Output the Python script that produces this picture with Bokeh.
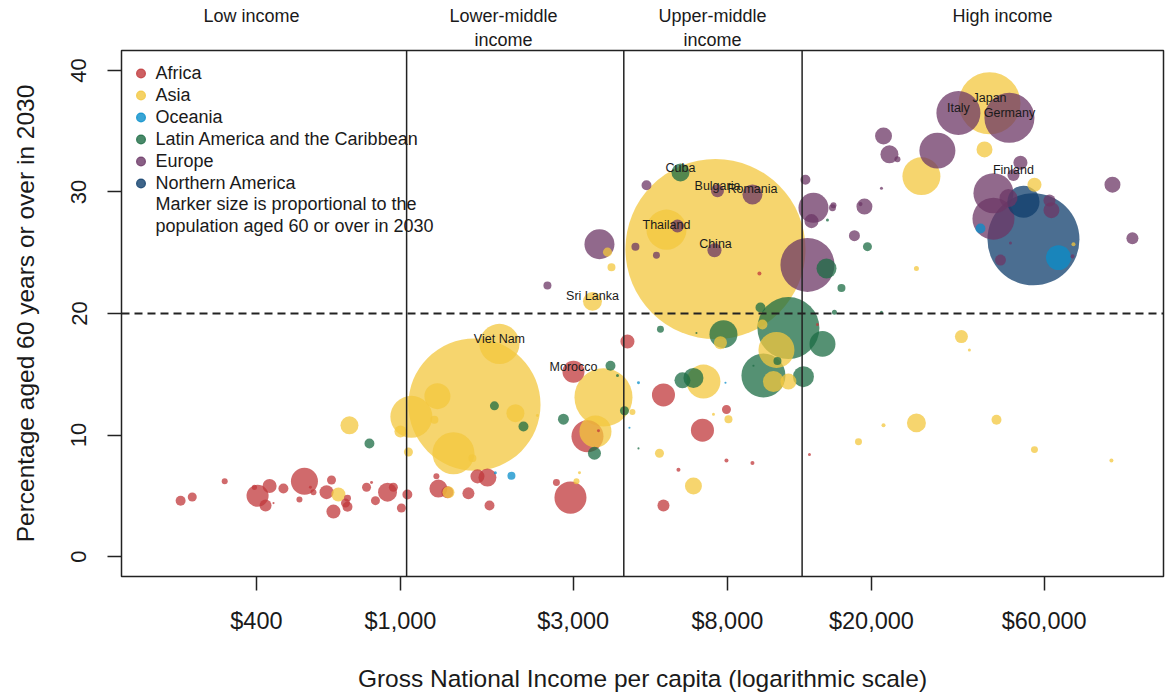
import math
from bokeh.plotting import figure
from bokeh.models import (ColumnDataSource, Span, Label, Legend, LegendItem, Range1d,
                          FixedTicker, NumeralTickFormatter, LogAxis)
from bokeh.core.properties import value
from bokeh.embed import file_html
from bokeh.resources import INLINE

FONT = "Liberation Sans"

REGIONS = ["Africa", "Asia", "Oceania", "Latin America and the Caribbean",
           "Europe", "Northern America"]
COLORS = ["#C0383B", "#F3C73E", "#088ECA", "#1C6C44", "#6C3766", "#0F3E6C"]

# GNI per capita (US$), % aged 60+ in 2030, population aged 60+ in 2030 (millions)
africa_gni = [247, 266, 327, 403, 435, 424, 395, 475, 543, 526, 575, 564, 645, 625, 653,
              714, 705, 714, 806, 832, 853, 921, 956, 1006, 1045, 446, 1257, 1273, 1348,
              1541, 1632, 1739, 1762, 2697, 2949, 3006, 3286, 4237, 5328, 6828, 7954, 5328,
              5861, 7954, 9384, 9810, 13486, 14190, 3524]
africa_pct = [4.6, 4.9, 6.2, 5.0, 5.8, 4.2, 5.7, 5.6, 6.2, 4.7, 5.3, 5.7, 6.3, 5.3, 3.7,
              4.8, 4.4, 4.1, 5.7, 6.1, 4.6, 5.3, 5.7, 4.0, 5.1, 4.4, 6.6, 5.6, 5.3,
              5.2, 6.6, 6.5, 4.2, 6.1, 4.85, 15.2, 9.9, 17.7, 13.3, 10.4, 12.1, 4.2,
              7.15, 7.9, 7.7, 23.3, 8.4, 19.1, 10.35]
africa_pop = [1.1, 0.9, 0.4, 5.4, 2.2, 1.6, 0.3, 1.1, 8.1, 0.4, 0.4, 0.1, 0.9, 2.2, 2.2,
              0.54, 0.9, 1.1, 0.9, 0.1, 0.9, 4.0, 0.9, 0.9, 1.1, 0.05, 0.4, 3.6, 1.6,
              1.6, 2.2, 3.6, 1.1, 0.54, 11.4, 5.4, 11.4, 2.2, 5.9, 5.9, 0.9, 1.6,
              0.18, 0.18, 0.18, 0.18, 0.1, 0.1, 0.1]

asia_gni = [723, 674, 1072, 1265, 1601, 2078, 1241, 1000, 1401, 1052, 1580, 1877, 2390,
            3638, 3457, 4374, 3064, 3123, 3392, 3732, 3828, 5431, 7417, 6871, 7656, 8056,
            7323, 5194, 6447, 10000, 10932, 10725, 11796, 18420, 21600, 26630, 35450,
            37300, 44310, 56420, 92060, 26630, 27490, 41060, 42390, 56420, 72310, 1357]
asia_pct = [10.8, 5.1, 11.5, 13.2, 12.5, 11.8, 11.25, 10.3, 8.5, 8.6, 8.1, 17.5, 11.6,
            13.1, 10.3, 11.9, 6.2, 6.9, 21.0, 25.05, 23.8, 26.9, 25.3, 14.4, 17.6, 11.3,
            11.7, 8.5, 5.8, 19.1, 17.0, 14.4, 14.4, 9.45, 10.8, 11.0, 18.1,
            17.0, 11.25, 8.8, 7.9, 23.7, 31.3, 33.5, 37.3, 30.6, 25.7, 5.3]
asia_pop = [3.6, 2.2, 19.6, 7.5, 194, 3.6, 0.71, 1.6, 19.6, 0.9, 0.71, 17.8, 0.1,
            37.4, 11.4, 0.4, 0.4, 0.1, 4.0, 0.9, 0.71, 17.8, 360, 12.8, 1.88, 0.71,
            0.1, 0.9, 3.2, 1.1, 14.4, 4.9, 2.84, 0.54, 0.18, 4.0, 1.88,
            0.1, 1.1, 0.54, 0.18, 0.28, 16.0, 2.84, 42.7, 2.2, 0.18, 1.6]

oceania_gni = [2026, 1829, 4545, 4291, 7904, 40020, 65720]
oceania_pct = [6.65, 6.9, 14.3, 10.6, 14.3, 27.0, 24.6]
oceania_pop = [0.71, 0.1, 0.1, 0.05, 0.05, 1.1, 6.9]

latam_gni = [821, 1818, 2187, 2820, 3804, 3977, 4157, 3435, 5227, 6012, 6447, 7804, 6572,
             4545, 9874, 11796, 11002, 14650, 10064, 12980, 9443, 16530, 15810, 15030,
             19500, 15120, 5936, 21320]
latam_pct = [9.3, 12.4, 10.7, 11.3, 15.7, 14.9, 12.0, 8.5, 18.7, 14.5, 14.7, 18.3, 18.4,
             8.9, 20.5, 18.8, 16.1, 17.5, 14.9, 14.8, 15.7, 22.1, 20.1, 23.7,
             25.5, 27.7, 31.6, 20.1]
latam_pop = [1.1, 0.9, 1.1, 1.34, 1.1, 0.1, 0.9, 1.88, 0.54, 2.84, 4.44, 8.7, 0.05,
             0.05, 1.1, 42.7, 0.71, 7.5, 21.5, 4.9, 0.05, 0.71, 0.28, 4.44,
             0.9, 0.1, 3.6, 0.1]

europe_gni = [2547, 3546, 4783, 4458, 5095, 5824, 7370, 7512, 9384, 13314, 13834, 13660,
              13146, 15610, 15710, 17950, 19130, 18660, 21320, 21600, 22430, 23600, 30430,
              34780, 48120, 49360, 51600, 43470, 47820, 62070, 62860, 43470, 45450, 48430,
              71860, 92660, 105200]
europe_pct = [22.3, 25.7, 30.55, 25.5, 24.8, 27.2, 25.2, 30.1, 29.8, 24.0, 28.7, 27.6,
              31.0, 28.7, 28.9, 26.4, 28.8, 29.0, 30.3, 34.6, 33.1, 32.7, 33.4,
              36.5, 36.1, 31.4, 32.4, 29.9, 29.5, 29.3, 28.5, 27.8, 24.4, 25.8,
              24.7, 30.6, 26.2]
europe_pop = [0.71, 10.0, 1.1, 0.71, 0.54, 1.88, 2.2, 1.88, 4.44, 32.4, 10.0, 2.2,
              1.1, 0.54, 0.4, 1.34, 2.84, 0.18, 0.1, 3.2, 3.6, 0.4, 14.4,
              21.5, 27.8, 1.6, 2.2, 17.8, 3.6, 1.6, 2.84, 19.6, 1.34, 0.1,
              0.18, 2.84, 1.6]

namerica_gni = [52600, 56060]
namerica_pct = [29.2, 26.1]
namerica_pop = [11.4, 94.0]

label_names = ["Viet Nam", "Sri Lanka", "Morocco", "Cuba", "Bulgaria", "Romania",
               "Thailand", "China", "Japan", "Italy", "Germany", "Finland"]
label_gni = [1877, 3392, 3006, 5936, 7512, 9384, 5431, 7417, 42390, 34780, 48120, 49360]
label_pct = [17.5, 21.0, 15.2, 31.6, 30.1, 29.8, 26.9, 25.3, 37.3, 36.5, 36.1, 31.4]

x_ticks = [400, 1000, 3000, 8000, 20000, 60000]
y_ticks = [0, 10, 20, 30, 40]
income_thresholds = [1040, 4140, 12870]
reference_pct = 20
group_gni = [388, 1925, 7276, 46030]
group_line1 = ["Low income", "Lower-middle", "Upper-middle", "High income"]
group_line2 = ["", "income", "income", ""]
note_lines = ["Marker size is proportional to the", "population aged 60 or over in 2030"]

# ---- assemble -----------------------------------------------------------
series = [(africa_gni, africa_pct, africa_pop), (asia_gni, asia_pct, asia_pop),
          (oceania_gni, oceania_pct, oceania_pop), (latam_gni, latam_pct, latam_pop),
          (europe_gni, europe_pct, europe_pop), (namerica_gni, namerica_pct, namerica_pop)]
rows = []
for k, (g, c, s) in enumerate(series):
    for gi, ci, si in zip(g, c, s):
        rows.append((gi, ci, si, k))
rows.sort(key=lambda r: -r[2])

SIZE_SCALE = 9.49  # marker diameter (px) per sqrt(million)
src = ColumnDataSource(dict(
    gni=[r[0] for r in rows], pct=[r[1] for r in rows], pop=[r[2] for r in rows],
    region=[REGIONS[r[3]] for r in rows], color=[COLORS[r[3]] for r in rows],
    size=[SIZE_SCALE * math.sqrt(r[2]) for r in rows]))

p = figure(width=1165, height=694, x_axis_type="log",
           x_range=Range1d(169.6, 128200), y_range=Range1d(-1.64, 41.64),
           output_backend="svg", toolbar_location=None,
           min_border_left=121, min_border_right=2, min_border_top=50,
           min_border_bottom=117)
p.xgrid.visible = False
p.ygrid.visible = False
p.outline_line_color = "#222222"
p.outline_line_width = 1.5
p.outline_line_alpha = 1.0
p.background_fill_color = "white"
p.border_fill_color = "white"

r = p.scatter(x="gni", y="pct", size="size", source=src, fill_color="color",
              fill_alpha=0.75, line_color=None)

# axes
for ax in (p.xaxis[0], p.yaxis[0]):
    ax.axis_line_color = None
    ax.major_tick_out = 14
    ax.major_tick_in = 0
    ax.major_tick_line_color = "#222222"
    ax.major_tick_line_width = 1.5
    ax.minor_tick_line_color = None
    ax.major_label_text_font = FONT
    ax.major_label_text_color = "#1a1a1a"
    ax.axis_label_text_font = FONT
    ax.axis_label_text_font_style = "normal"
    ax.axis_label_text_color = "#1a1a1a"
    ax.axis_label_text_font_size = "24.5px"

p.xaxis.ticker = FixedTicker(ticks=x_ticks)
p.xaxis.formatter = NumeralTickFormatter(format="$0,0")
p.xaxis.major_label_text_font_size = "23.5px"
p.xaxis.major_label_standoff = 17
p.xaxis.axis_label = "Gross National Income per capita (logarithmic scale)"
p.xaxis.axis_label_standoff = 28

p.yaxis.ticker = FixedTicker(ticks=y_ticks)
p.yaxis.major_label_text_font_size = "22px"
p.yaxis.major_label_orientation = "parallel"
p.yaxis.major_label_standoff = 21
p.yaxis.axis_label = "Percentage aged 60 years or over in 2030"
p.yaxis.axis_label_standoff = 30

# income group captions: two label-only axes above the frame
def caption_axis(labels, standoff):
    ticks = [g for g, t in zip(group_gni, labels) if t]
    ax = LogAxis(ticker=FixedTicker(ticks=ticks),
                 major_label_overrides={g: t for g, t in zip(group_gni, labels) if t},
                 axis_line_color=None, major_tick_line_color=None,
                 minor_tick_line_color=None, major_tick_out=0, major_tick_in=0,
                 major_label_standoff=standoff, major_label_text_font=FONT,
                 major_label_text_font_size="18px", major_label_text_color="#1a1a1a")
    p.add_layout(ax, "above")

caption_axis(group_line2, 1)
caption_axis(group_line1, 1)

# reference lines
for t in income_thresholds:
    p.add_layout(Span(location=t, dimension="height", line_color="#222222", line_width=1.5))
p.add_layout(Span(location=reference_pct, dimension="width", line_color="#222222",
                  line_width=2, line_dash="8 5"))

# country labels
lab_src = ColumnDataSource(dict(gni=label_gni, pct=label_pct, name=label_names))
p.text(x="gni", y="pct", text="name", source=lab_src, text_font=value(FONT),
       text_font_size="12.5px", text_align="center", text_baseline="middle",
       y_offset=-5, text_color="#1a1a1a")

# legend: swatch renderers hold a single undrawable (NaN) point
items = []
for reg, col in zip(REGIONS, COLORS):
    dummy = p.scatter(x=[float("nan")], y=[float("nan")], fill_color=col, fill_alpha=0.8,
                      line_color=col, line_alpha=0.8, line_width=1.2)
    items.append(LegendItem(label=reg, renderers=[dummy], index=0))
legend = Legend(items=items, location=(6.5, 382), margin=0, padding=0,
                glyph_width=25, glyph_height=22, label_height=22, spacing=0,
                label_standoff=3, label_text_font=FONT, label_text_font_size="18px",
                label_text_color="#1a1a1a", border_line_color=None,
                background_fill_alpha=0)
p.add_layout(legend)

for j, t in enumerate(note_lines):
    p.add_layout(Label(x=210.4, y=28.99 - 1.8 * j, text=t, text_font=FONT,
                       text_font_size="18px", text_align="left",
                       text_baseline="middle", text_color="#1a1a1a"))

open("out.html", "w").write(file_html(p, INLINE))
